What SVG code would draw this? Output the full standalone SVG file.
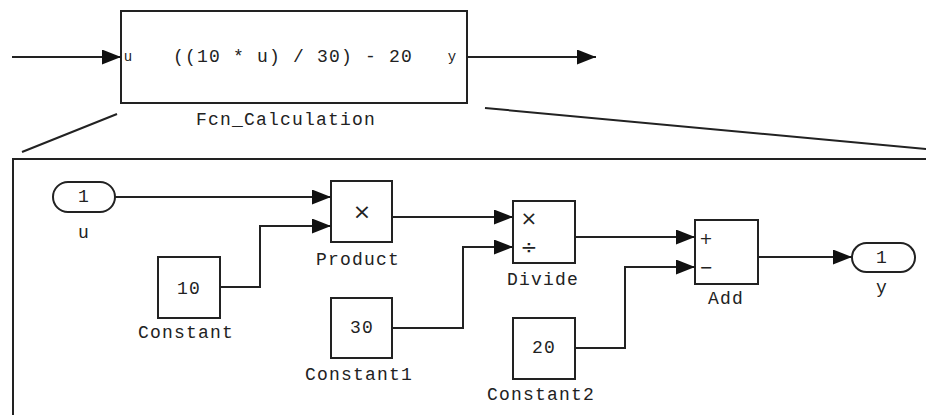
<svg xmlns="http://www.w3.org/2000/svg" width="926" height="415" viewBox="0 0 926 415">
<defs>
<style>
.bx{fill:#fff;stroke:#222;stroke-width:2}
.ln{fill:none;stroke:#222;stroke-width:2}
.ar{fill:none;stroke:#222;stroke-width:2;marker-end:url(#ah)}
.t{font-family:"Liberation Mono",monospace;font-size:18px;letter-spacing:1.2px;fill:#222;text-anchor:middle;dominant-baseline:central}
.s{font-family:"Liberation Mono",monospace;font-size:14px;fill:#222;text-anchor:middle;dominant-baseline:central}
.m{font-family:"DejaVu Sans",sans-serif;fill:#222;text-anchor:middle;dominant-baseline:central}
</style>
<marker id="ah" markerUnits="userSpaceOnUse" markerWidth="20" markerHeight="16" refX="19" refY="7.5" orient="auto">
<path d="M0,0 L19,7.5 L0,15 z" fill="#111"/>
</marker>
</defs>
<rect width="926" height="415" fill="#fff"/>

<g id="zoom-lines">
<line class="ln" x1="117" y1="114" x2="22" y2="152"/>
<line class="ln" x1="485" y1="108" x2="926" y2="149"/>
<polyline class="ln" points="13,415 13,159 926,159"/>
</g>

<g id="Fcn_Calculation">
<rect class="bx" x="121" y="11" width="346" height="92"/>
<text class="s" x="128" y="57">u</text>
<text class="t" x="293" y="57">((10 * u) / 30) - 20</text>
<text class="s" x="452" y="57">y</text>
<text class="t" x="286" y="120">Fcn_Calculation</text>
</g>

<g id="In_u">
<rect class="bx" x="53" y="182" width="62" height="30" rx="15" ry="15"/>
<text class="t" x="84" y="197">1</text>
<text class="t" x="84" y="233">u</text>
</g>

<g id="Product">
<rect class="bx" x="331" y="181" width="61" height="61"/>
<text class="m" x="362" y="211" font-size="22">×</text>
<text class="t" x="358" y="260">Product</text>
</g>

<g id="Constant">
<rect class="bx" x="158" y="257" width="62" height="61"/>
<text class="t" x="189" y="289">10</text>
<text class="t" x="186" y="333">Constant</text>
</g>

<g id="Constant1">
<rect class="bx" x="331" y="298" width="61" height="60"/>
<text class="t" x="362" y="328">30</text>
<text class="t" x="359" y="375">Constant1</text>
</g>

<g id="Divide">
<rect class="bx" x="513" y="201" width="62" height="62"/>
<text class="m" x="529" y="218" font-size="20">×</text>
<text class="m" x="529" y="247" font-size="20">÷</text>
<text class="t" x="543" y="280">Divide</text>
</g>

<g id="Constant2">
<rect class="bx" x="513" y="318" width="62" height="61"/>
<text class="t" x="544" y="348">20</text>
<text class="t" x="541" y="395">Constant2</text>
</g>

<g id="Add">
<rect class="bx" x="695" y="220" width="63" height="64"/>
<text class="m" x="706" y="238" font-size="16">+</text>
<text class="m" x="706" y="267" font-size="16">−</text>
<text class="t" x="726" y="299">Add</text>
</g>

<g id="Out_y">
<rect class="bx" x="852" y="243" width="63" height="29" rx="14.5" ry="14.5"/>
<text class="t" x="882" y="258">1</text>
<text class="t" x="882" y="288">y</text>
</g>

<g id="connectors">
<line class="ar" x1="12" y1="57" x2="121" y2="57"/>
<line class="ar" x1="467" y1="57" x2="596" y2="57"/>
<line class="ar" x1="115" y1="197" x2="331" y2="197"/>
<polyline class="ar" points="220,287 260,287 260,226 331,226"/>
<line class="ar" x1="392" y1="217" x2="513" y2="217"/>
<polyline class="ar" points="392,328 463,328 463,247 513,247"/>
<line class="ar" x1="575" y1="237" x2="695" y2="237"/>
<polyline class="ar" points="575,348 625,348 625,267 695,267"/>
<line class="ar" x1="758" y1="257" x2="852" y2="257"/>
</g>
</svg>
